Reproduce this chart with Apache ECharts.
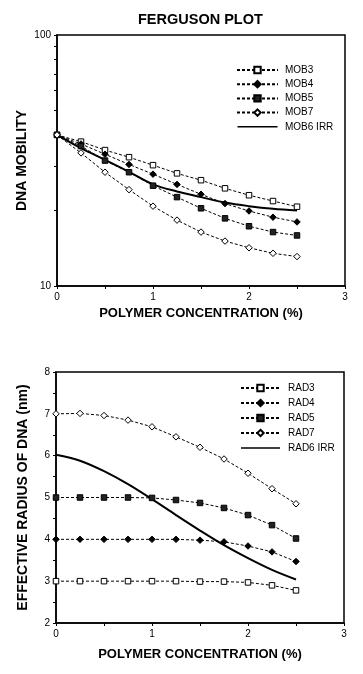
<!DOCTYPE html>
<html>
<head>
<meta charset="utf-8">
<script src="https://cdn.jsdelivr.net/npm/echarts@6/dist/echarts.min.js"></script>
<style>
html,body{margin:0;padding:0;background:#fff;}
#c{width:363px;height:674px;}
</style>
</head>
<body>
<div id="c"></div>
<script>
// ---- data ----
var conc = [0, 0.25, 0.5, 0.75, 1, 1.25, 1.5, 1.75, 2, 2.25, 2.5];

var mob3 = [40, 37.6, 34.8, 32.6, 30.3, 28.1, 26.4, 24.5, 23.0, 21.8, 20.7];
var mob4 = [40, 36.8, 33.5, 30.5, 27.9, 25.4, 23.2, 21.3, 19.9, 18.8, 18.0];
var mob5 = [40, 36.1, 31.6, 28.4, 25.1, 22.6, 20.4, 18.6, 17.3, 16.4, 15.9];
var mob7 = [40, 33.9, 28.4, 24.2, 20.8, 18.3, 16.4, 15.1, 14.2, 13.5, 13.1];
var mob6irr = [40, 35.4, 31.8, 28.5, 25.4, 23.8, 22.6, 21.5, 20.8, 20.3, 20.0];

var rad3 = [3, 3, 3, 3, 3, 3, 2.99, 2.99, 2.97, 2.90, 2.78];
var rad4 = [4, 4, 4, 4, 4, 4, 3.98, 3.94, 3.84, 3.70, 3.47];
var rad5 = [5, 5, 5, 5, 4.99, 4.94, 4.87, 4.75, 4.58, 4.34, 4.02];
var rad7 = [7.0, 7.01, 6.96, 6.85, 6.69, 6.45, 6.20, 5.92, 5.58, 5.21, 4.85];
var rad6irr = [6.02, 5.88, 5.63, 5.32, 4.96, 4.58, 4.21, 3.86, 3.55, 3.27, 3.04];

var xTickLabels = [0, 1, 2, 3];
var mobTickLabels = [10, 100];
var mobMinorTicks = [10, 20, 30, 40, 50, 60, 70, 80, 90, 100];

var title = 'FERGUSON PLOT';
var xName = 'POLYMER CONCENTRATION (%)';
var mobName = 'DNA MOBILITY';
var radName = 'EFFECTIVE RADIUS OF DNA (nm)';

// ---- build ----
function pairs(vals) { return conc.map(function (x, i) { return [x, vals[i]]; }); }

var FONT = 'Liberation Sans, Arial, Helvetica, sans-serif';
var dash = [3, 2];
// solid-line legend icon (thin bar centred in a box, tiny invisible corners keep the box)
var lineIcon = 'path://M0,0H0.01V0.01H0Z M0,3.2H40V4.8H0Z M0,7.99H0.01V8H0Z';

function dashedSeries(name, vals, sym, fill, xi, yi) {
  return {
    name: name, type: 'line', xAxisIndex: xi, yAxisIndex: yi,
    data: pairs(vals), symbol: sym, symbolSize: sym === 'rect' ? 5.5 : 6.5, showSymbol: true,
    lineStyle: { color: '#000', width: 1, type: dash },
    itemStyle: { color: fill, borderColor: '#000', borderWidth: 1 },
    emphasis: { disabled: true }, animation: false, z: 3
  };
}
function solidSeries(name, vals, xi, yi) {
  return {
    name: name, type: 'line', xAxisIndex: xi, yAxisIndex: yi,
    data: pairs(vals), symbol: 'none', smooth: 0.35,
    lineStyle: { color: '#000', width: 2, type: 'solid' },
    itemStyle: { color: '#000' },
    emphasis: { disabled: true }, animation: false, z: 2
  };
}

function xAxis(gi) {
  return {
    type: 'value', gridIndex: gi, min: 0, max: 3, interval: 1,
    name: xName, nameLocation: 'middle', nameGap: gi === 0 ? 21 : 25,
    nameMoveOverlap: false,
    nameTextStyle: { fontFamily: FONT, fontWeight: 'bold', fontSize: 13, color: '#000' },
    axisLine: { lineStyle: { color: '#000', width: 1.5 } },
    axisTick: { show: true, length: 3, lineStyle: { color: '#000' } },
    minorTick: { show: true, splitNumber: 2, length: 3, lineStyle: { color: '#000' } },
    axisLabel: { fontFamily: FONT, fontSize: 10, color: '#000', margin: 6,
      customValues: xTickLabels },
    splitLine: { show: false }
  };
}

var option = {
  backgroundColor: '#fff',
  animation: false,
  title: {
    text: title, left: 133, top: 7,
    textStyle: { fontFamily: FONT, fontWeight: 'bold', fontSize: 14.5, color: '#000' }
  },
  grid: [
    { left: 57, right: 18, top: 35, height: 251, show: true, borderColor: '#000', borderWidth: 1.5, backgroundColor: 'transparent' },
    { left: 56, right: 19, top: 372, height: 251, show: true, borderColor: '#000', borderWidth: 1.5, backgroundColor: 'transparent' }
  ],
  xAxis: [xAxis(0), xAxis(1)],
  yAxis: [
    {
      type: 'log', logBase: 10, gridIndex: 0, min: 10, max: 100,
      name: mobName, nameLocation: 'middle', nameGap: 28, nameMoveOverlap: false,
      nameTextStyle: { fontFamily: FONT, fontWeight: 'bold', fontSize: 14, color: '#000' },
      axisLine: { show: true, lineStyle: { color: '#000', width: 1.5 } },
      axisTick: { show: true, length: 3, customValues: mobMinorTicks, lineStyle: { color: '#000' } },
      axisLabel: { fontFamily: FONT, fontSize: 10, color: '#000', margin: 6, customValues: mobTickLabels },
      splitLine: { show: false }
    },
    {
      type: 'value', gridIndex: 1, min: 2, max: 8, interval: 1,
      name: radName, nameLocation: 'middle', nameGap: 26, nameMoveOverlap: false,
      nameTextStyle: { fontFamily: FONT, fontWeight: 'bold', fontSize: 14, color: '#000' },
      axisLine: { show: true, lineStyle: { color: '#000', width: 1.5 } },
      axisTick: { show: true, length: 3, lineStyle: { color: '#000' } },
      minorTick: { show: true, splitNumber: 2, length: 3, lineStyle: { color: '#000' } },
      axisLabel: { fontFamily: FONT, fontSize: 10, color: '#000', margin: 6 },
      splitLine: { show: false }
    }
  ],
  legend: [
    {
      data: ['MOB3', 'MOB4', 'MOB5', 'MOB7', { name: 'MOB6 IRR', icon: lineIcon }],
      orient: 'vertical', left: 231, top: 60, itemWidth: 41, itemHeight: 8, itemGap: 4.2,
      selectedMode: false,
      textStyle: { fontFamily: FONT, fontSize: 10, color: '#000', padding: [0, 0, 0, 2] }
    },
    {
      data: ['RAD3', 'RAD4', 'RAD5', 'RAD7', { name: 'RAD6 IRR', icon: lineIcon }],
      orient: 'vertical', left: 235, top: 378, itemWidth: 39, itemHeight: 8, itemGap: 5,
      selectedMode: false,
      textStyle: { fontFamily: FONT, fontSize: 10, color: '#000', padding: [0, 0, 0, 3] }
    }
  ],
  series: [
    dashedSeries('MOB3', mob3, 'rect', '#fff', 0, 0),
    dashedSeries('MOB4', mob4, 'diamond', '#000', 0, 0),
    dashedSeries('MOB5', mob5, 'rect', '#222', 0, 0),
    dashedSeries('MOB7', mob7, 'diamond', '#fff', 0, 0),
    solidSeries('MOB6 IRR', mob6irr, 0, 0),
    dashedSeries('RAD3', rad3, 'rect', '#fff', 1, 1),
    dashedSeries('RAD4', rad4, 'diamond', '#000', 1, 1),
    dashedSeries('RAD5', rad5, 'rect', '#222', 1, 1),
    dashedSeries('RAD7', rad7, 'diamond', '#fff', 1, 1),
    solidSeries('RAD6 IRR', rad6irr, 1, 1)
  ]
};

var chart = echarts.init(document.getElementById('c'), null, { renderer: 'canvas' });
chart.setOption(option);
</script>
</body>
</html>
